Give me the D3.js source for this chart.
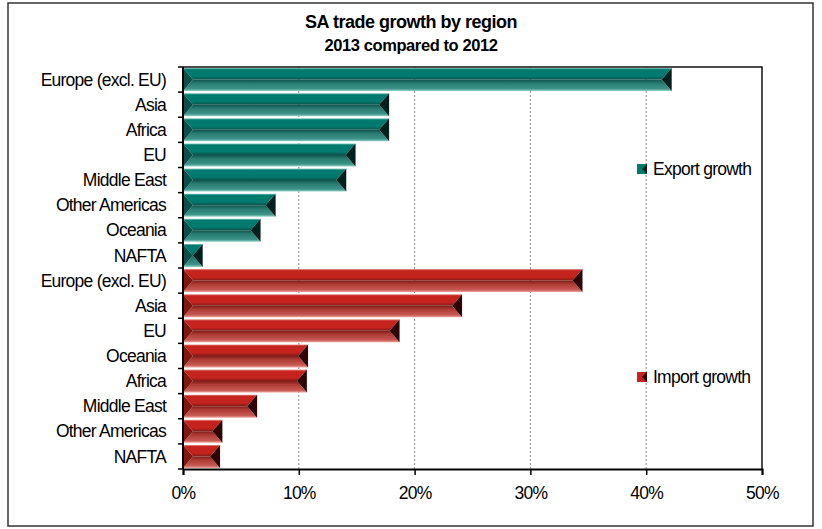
<!DOCTYPE html>
<html>
<head>
<meta charset="utf-8">
<script src="https://cdn.jsdelivr.net/npm/d3@7"></script>
<style>
  html, body { margin: 0; padding: 0; background: #fff; }
  svg { display: block; font-family: "Liberation Sans", Arial, sans-serif; }
</style>
</head>
<body>
<svg id="chart" width="822" height="529"></svg>
<script>
// SA trade growth by region, 2013 vs 2012 (growth in %)
const exportRegions = ["Europe (excl. EU)", "Asia", "Africa", "EU", "Middle East", "Other Americas", "Oceania", "NAFTA"];
const exportGrowth  = [42.2, 17.8, 17.8, 14.9, 14.1, 8.0, 6.7, 1.7];
const importRegions = ["Europe (excl. EU)", "Asia", "EU", "Oceania", "Africa", "Middle East", "Other Americas", "NAFTA"];
const importGrowth  = [34.5, 24.1, 18.7, 10.8, 10.7, 6.4, 3.4, 3.2];
const xTicks = [0, 10, 20, 30, 40, 50];

const seriesNames = ["Export growth", "Import growth"];

const rows = [
  ...exportRegions.map((r, i) => ({ region: r, value: exportGrowth[i], series: 0 })),
  ...importRegions.map((r, i) => ({ region: r, value: importGrowth[i], series: 1 }))
].map((d, i) => ({ ...d, key: i }));

const svg = d3.select("#chart");
const plot = { left: 183, right: 762, top: 67, bottom: 469 };
const labelFont = { size: 17.5, spacing: -0.75 };

// outer frame
svg.append("rect")
  .attr("x", 8).attr("y", 3).attr("width", 805).attr("height", 523)
  .attr("fill", "#fff").attr("stroke", "#333").attr("stroke-width", 1.5);

// titles
svg.append("text").attr("x", 411).attr("y", 28).attr("text-anchor", "middle")
  .attr("font-size", 18).attr("font-weight", "bold").attr("letter-spacing", -0.5)
  .text("SA trade growth by region");
svg.append("text").attr("x", 411).attr("y", 51).attr("text-anchor", "middle")
  .attr("font-size", 16.5).attr("font-weight", "bold").attr("letter-spacing", -0.4)
  .text("2013 compared to 2012");

const x = d3.scaleLinear().domain([0, 50]).range([plot.left, plot.right]);
const y = d3.scaleBand().domain(rows.map(d => d.key)).range([plot.top, plot.bottom]).paddingInner(0.08).paddingOuter(0.04);

const palettes = [
  { hi: "#8fcfc5", top: "#007a6e", ridge: "#0e524b", low: "#267a70", mid: "#3f9489", edge: "#9ad6cc", left: "#0a4f48", right: "#02201d" },
  { hi: "#ee9e98", top: "#c5231d", ridge: "#7f1c17", low: "#ad3a33", mid: "#c75a53", edge: "#f0a8a2", left: "#80170f", right: "#2e0504" }
];

const defs = svg.append("defs");
palettes.forEach((p, i) => {
  const gt = defs.append("linearGradient").attr("id", "top" + i).attr("x1", 0).attr("y1", 0).attr("x2", 0).attr("y2", 1);
  gt.append("stop").attr("offset", 0).attr("stop-color", p.hi);
  gt.append("stop").attr("offset", 0.14).attr("stop-color", p.top);
  gt.append("stop").attr("offset", 0.72).attr("stop-color", p.top);
  gt.append("stop").attr("offset", 1).attr("stop-color", p.ridge);
  const gb = defs.append("linearGradient").attr("id", "bot" + i).attr("x1", 0).attr("y1", 0).attr("x2", 0).attr("y2", 1);
  gb.append("stop").attr("offset", 0).attr("stop-color", p.ridge);
  gb.append("stop").attr("offset", 0.3).attr("stop-color", p.low);
  gb.append("stop").attr("offset", 0.8).attr("stop-color", p.mid);
  gb.append("stop").attr("offset", 1).attr("stop-color", p.edge);
});

// vertical dotted gridlines
svg.append("g").selectAll("line").data(xTicks.filter(t => t > 0 && t < 50)).join("line")
  .attr("x1", d => x(d)).attr("x2", d => x(d))
  .attr("y1", plot.top).attr("y2", plot.bottom)
  .attr("stroke", "#8a8a8a").attr("stroke-width", 1).attr("stroke-dasharray", "2,2");

// bevelled bars: top/bottom faces meet at a ridge, triangular end facets
const bars = svg.append("g").selectAll("g").data(rows).join("g");
bars.each(function (d) {
  const g = d3.select(this);
  const x0 = x(0), x1 = x(d.value);
  const y0 = y(d.key), y1 = y0 + y.bandwidth(), ym = (y0 + y1) / 2;
  const w = Math.min(10, (x1 - x0) / 2);
  const p = palettes[d.series];
  const poly = pts => pts.map(q => q.join(",")).join(" ");
  g.append("polygon").attr("points", poly([[x0, y0], [x1, y0], [x1 - w, ym], [x0 + w, ym]]))
    .attr("fill", `url(#top${d.series})`);
  g.append("polygon").attr("points", poly([[x0 + w, ym], [x1 - w, ym], [x1, y1], [x0, y1]]))
    .attr("fill", `url(#bot${d.series})`);
  g.append("polygon").attr("points", poly([[x0, y0], [x0 + w, ym], [x0, y1]])).attr("fill", p.left);
  g.append("polygon").attr("points", poly([[x1, y0], [x1 - w, ym], [x1, y1]])).attr("fill", p.right);
});

// plot frame: top and right
svg.append("path")
  .attr("d", `M${plot.left},${plot.top}H${plot.right}V${plot.bottom}`)
  .attr("fill", "none").attr("stroke", "#111").attr("stroke-width", 1.5);

// bottom axis
const xAxis = svg.append("g").attr("transform", `translate(0,${plot.bottom})`)
  .call(d3.axisBottom(x).tickValues(xTicks).tickFormat(d => d + "%").tickSize(6).tickPadding(12));
xAxis.select(".domain").attr("stroke", "#000").attr("stroke-width", 2);
xAxis.selectAll(".tick line").attr("stroke", "#000").attr("stroke-width", 1.5);
xAxis.selectAll("text").attr("font-size", labelFont.size).attr("letter-spacing", labelFont.spacing).attr("fill", "#000")
  .attr("font-family", "'Liberation Sans', Arial, sans-serif");

// left axis with ticks at category boundaries
const yAxis = svg.append("g").attr("transform", `translate(${plot.left},0)`);
yAxis.append("line").attr("x1", 0).attr("x2", 0).attr("y1", plot.top).attr("y2", plot.bottom)
  .attr("stroke", "#000").attr("stroke-width", 2);
const step = (plot.bottom - plot.top) / rows.length;
yAxis.selectAll(".bt").data(d3.range(rows.length + 1)).join("line")
  .attr("x1", -5).attr("x2", 0)
  .attr("y1", i => plot.top + i * step).attr("y2", i => plot.top + i * step)
  .attr("stroke", "#000").attr("stroke-width", 1.5);
yAxis.selectAll("text").data(rows).join("text")
  .attr("x", -17).attr("y", d => y(d.key) + y.bandwidth() / 2).attr("dy", "0.35em")
  .attr("text-anchor", "end").attr("font-size", labelFont.size).attr("letter-spacing", labelFont.spacing)
  .text(d => d.region);

// legend entries
const legendY = [169, 377];
const legend = svg.append("g").selectAll("g").data(seriesNames).join("g")
  .attr("transform", (d, i) => `translate(637,${legendY[i]})`);
legend.append("rect").attr("x", 0).attr("y", -5).attr("width", 10).attr("height", 10)
  .attr("fill", (d, i) => palettes[i].top);
legend.append("polygon").attr("points", "10,-5 5,0 10,5").attr("fill", (d, i) => palettes[i].right);
legend.append("text").attr("x", 16).attr("y", 0).attr("dy", "0.35em")
  .attr("font-size", labelFont.size).attr("letter-spacing", labelFont.spacing).text(d => d);
</script>
</body>
</html>
